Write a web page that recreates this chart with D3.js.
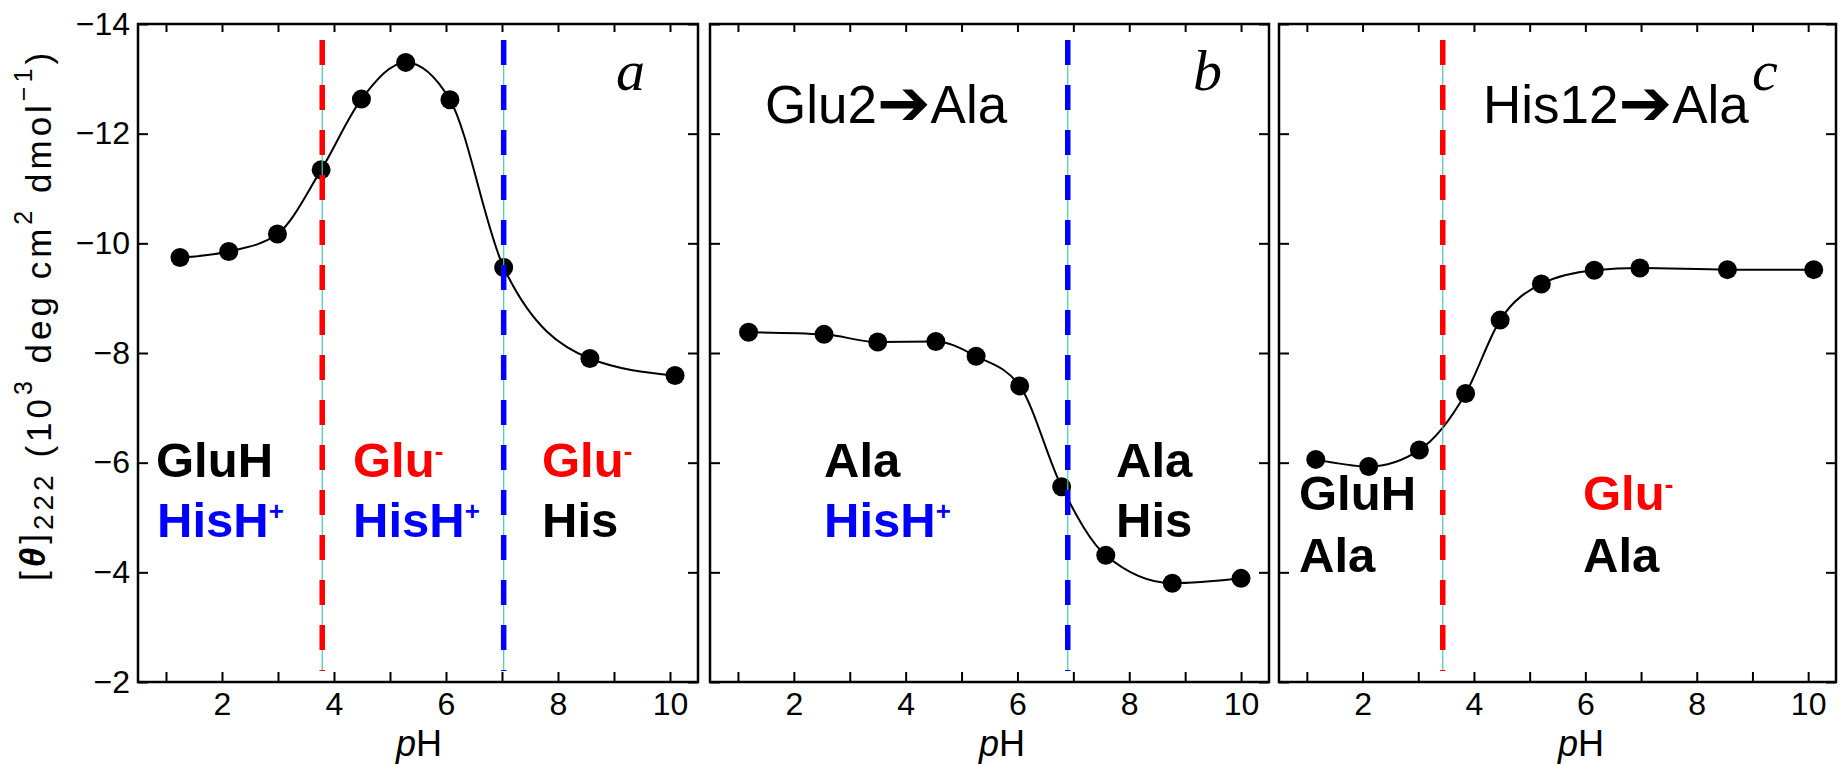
<!DOCTYPE html>
<html>
<head>
<meta charset="utf-8">
<script src="https://cdn.jsdelivr.net/npm/d3@7"></script>
<style>
  body { margin: 0; background: #fff; }
  svg { display: block; }
</style>
</head>
<body>
<div id="chart"></div>
<script>
var width = 1847,
    height = 765;

// readings: pH and [theta]222 (10^3 deg cm2 dmol-1) for each panel
var phA    = [1.25, 2.12, 2.99, 3.77, 4.49, 5.28, 6.07, 7.03, 8.57, 10.09];
var thetaA = [-9.74, -9.85, -10.17, -11.34, -12.63, -13.3, -12.62, -9.56, -7.9, -7.59];
var phB    = [1.19, 2.54, 3.5, 4.54, 5.26, 6.04, 6.79, 7.58, 8.77, 10.0];
var thetaB = [-8.38, -8.34, -8.2, -8.21, -7.94, -7.4, -5.56, -4.31, -3.8, -3.89];
var phC    = [1.16, 2.11, 3.02, 3.85, 4.47, 5.21, 6.16, 6.98, 8.55, 10.1];
var thetaC = [-6.06, -5.93, -6.23, -7.26, -8.6, -9.26, -9.51, -9.55, -9.52, -9.52];

// pKa markers (pH) and which residue they belong to
var pkaA = [3.79, 7.03], pkaResA = ["Glu", "His"];
var pkaB = [6.9],        pkaResB = ["His"];
var pkaC = [3.44],       pkaResC = ["Glu"];

var xTicks = [1, 2, 3, 4, 5, 6, 7, 8, 9, 10];
var xTickLabels = [2, 4, 6, 8, 10];
var yTicks = [-14, -12, -10, -8, -6, -4, -2];

var resColor = { Glu: "#ff0000", His: "#0000ff" };
var sans = "'Liberation Sans', Arial, sans-serif";

// panel layout + annotation text
var panels = [
  { ph: phA, theta: thetaA, pka: pkaA, res: pkaResA, left: 138, right: 698, letter: "a", letterX: 616, titleX: 419, yLabels: true,
    title: null,
    labels: [
      { x: 156, y: 477, t: "GluH", c: "#000" },
      { x: 157, y: 537, t: "HisH", sup: "+", c: "#0000ff" },
      { x: 353, y: 477, t: "Glu", sup: "-", c: "#ff0000" },
      { x: 353, y: 537, t: "HisH", sup: "+", c: "#0000ff" },
      { x: 542, y: 477, t: "Glu", sup: "-", c: "#ff0000" },
      { x: 542, y: 537, t: "His", c: "#000" }
    ] },
  { ph: phB, theta: thetaB, pka: pkaB, res: pkaResB, left: 710, right: 1269, letter: "b", letterX: 1193, titleX: 1002, yLabels: false,
    title: { x: 765, a: "Glu2", b: "Ala" },
    labels: [
      { x: 824, y: 477, t: "Ala", c: "#000" },
      { x: 824, y: 537, t: "HisH", sup: "+", c: "#0000ff" },
      { x: 1116, y: 477, t: "Ala", c: "#000" },
      { x: 1116, y: 537, t: "His", c: "#000" }
    ] },
  { ph: phC, theta: thetaC, pka: pkaC, res: pkaResC, left: 1279, right: 1836, letter: "c", letterX: 1752, titleX: 1581, yLabels: false,
    title: { x: 1483, a: "His12", b: "Ala" },
    labels: [
      { x: 1299, y: 510, t: "GluH", c: "#000" },
      { x: 1299, y: 572, t: "Ala", c: "#000" },
      { x: 1583, y: 510, t: "Glu", sup: "-", c: "#ff0000" },
      { x: 1583, y: 572, t: "Ala", c: "#000" }
    ] }
];

var top_ = 24, bottom_ = 682;

var svg = d3.select("#chart").append("svg")
    .attr("width", width)
    .attr("height", height);

var y = d3.scaleLinear().domain([-14, -2]).range([top_, bottom_]);

panels.forEach(function(p) {
    var x = d3.scaleLinear().domain([0.5, 10.5]).range([p.left, p.right]);
    var g = svg.append("g");

    // axes (ticks inward, labels only where the reference has them)
    var bx = g.append("g").attr("transform", "translate(0," + bottom_ + ")")
        .call(d3.axisBottom(x).tickValues(xTicks).tickSizeInner(-10).tickSizeOuter(0).tickPadding(10)
            .tickFormat(function(d) { return xTickLabels.indexOf(d) >= 0 ? d : ""; }));
    var tx = g.append("g").attr("transform", "translate(0," + top_ + ")")
        .call(d3.axisTop(x).tickValues(xTicks).tickSizeInner(-8).tickSizeOuter(0).tickFormat(""));
    var ly = g.append("g").attr("transform", "translate(" + p.left + ",0)")
        .call(d3.axisLeft(y).tickValues(yTicks).tickSizeInner(-10).tickSizeOuter(0).tickPadding(8)
            .tickFormat(p.yLabels ? d3.format("d") : ""));
    var ry = g.append("g").attr("transform", "translate(" + p.right + ",0)")
        .call(d3.axisRight(y).tickValues(yTicks).tickSizeInner(-10).tickSizeOuter(0).tickFormat(""));

    [bx, tx, ly, ry].forEach(function(a) {
        a.select(".domain").remove();
        a.selectAll("line").attr("stroke", "#000").attr("stroke-width", 2);
        a.selectAll("text").style("font-family", sans).style("font-size", "32px").attr("fill", "#000");
    });

    // frame
    g.append("rect")
        .attr("x", p.left).attr("y", top_)
        .attr("width", p.right - p.left).attr("height", bottom_ - top_)
        .attr("fill", "none").attr("stroke", "#000").attr("stroke-width", 2.5);

    // fitted curve through the points
    var pts = p.ph.map(function(d, i) { return [d, p.theta[i]]; });
    var line = d3.line()
        .x(function(d) { return x(d[0]); })
        .y(function(d) { return y(d[1]); })
        .curve(d3.curveMonotoneX);
    g.append("path").datum(pts)
        .attr("d", line)
        .attr("fill", "none").attr("stroke", "#000").attr("stroke-width", 2);

    g.selectAll(".dot").data(pts).enter().append("circle")
        .attr("class", "dot")
        .attr("cx", function(d) { return x(d[0]); })
        .attr("cy", function(d) { return y(d[1]); })
        .attr("r", 9.5)
        .attr("fill", "#000");

    // pKa dashed markers
    p.pka.forEach(function(v, i) {
        g.append("line")
            .attr("x1", x(v)).attr("x2", x(v))
            .attr("y1", top_ + 16).attr("y2", bottom_ - 11)
            .attr("stroke", "#48c9b0").attr("stroke-width", 1.2);
        g.append("line")
            .attr("x1", x(v)).attr("x2", x(v))
            .attr("y1", top_ + 16).attr("y2", bottom_ - 11)
            .attr("stroke", resColor[p.res[i]]).attr("stroke-width", 5.5)
            .attr("stroke-dasharray", "25,20");
    });

    // species labels
    p.labels.forEach(function(l) {
        var t = g.append("text")
            .attr("x", l.x).attr("y", l.y)
            .attr("fill", l.c)
            .style("font-family", sans).style("font-weight", "bold").style("font-size", "49px")
            .text(l.t);
        if (l.sup) {
            t.append("tspan").attr("dy", -17).style("font-size", "26px").text(l.sup);
        }
    });

    if (p.title) {
        var tt = g.append("text")
            .attr("x", p.title.x).attr("y", 123)
            .style("font-family", "'Liberation Sans', Arial, 'DejaVu Sans', sans-serif")
            .style("font-size", "53px");
        tt.append("tspan").text(p.title.a);
        tt.append("tspan").style("font-size", "64px").attr("dy", 2).text("\u2794");
        tt.append("tspan").attr("dy", -2).text(p.title.b);
    }

    g.append("text")
        .attr("x", p.letterX).attr("y", 90)
        .style("font-family", "'Liberation Serif', 'Times New Roman', serif")
        .style("font-style", "italic")
        .style("font-size", "58px")
        .text(p.letter);

    var xt = g.append("text")
        .attr("x", p.titleX).attr("y", 756)
        .attr("text-anchor", "middle")
        .style("font-family", sans).style("font-size", "36px");
    xt.append("tspan").style("font-style", "italic").text("p");
    xt.append("tspan").text("H");
});

// y-axis title
var yl = svg.append("text")
    .attr("transform", "translate(51,315) rotate(-90)")
    .attr("text-anchor", "middle")
    .style("font-family", sans).style("font-size", "35px").style("letter-spacing", "4px");
yl.append("tspan").attr("dy", -6).text("[");
yl.append("tspan").style("font-style", "italic").style("font-weight", "bold").text("\u03b8");
yl.append("tspan").text("]");
yl.append("tspan").attr("dy", 8).style("font-size", "28px").text("222");
yl.append("tspan").attr("dy", -2).text(" (10");
yl.append("tspan").attr("dy", -19).style("font-size", "25px").text("3");
yl.append("tspan").attr("dy", 19).text(" deg cm");
yl.append("tspan").attr("dy", -19).style("font-size", "25px").text("2");
yl.append("tspan").attr("dy", 19).text(" dmol");
yl.append("tspan").attr("dy", -19).style("font-size", "25px").text("\u22121");
yl.append("tspan").attr("dy", 19).text(")");
</script>
</body>
</html>
